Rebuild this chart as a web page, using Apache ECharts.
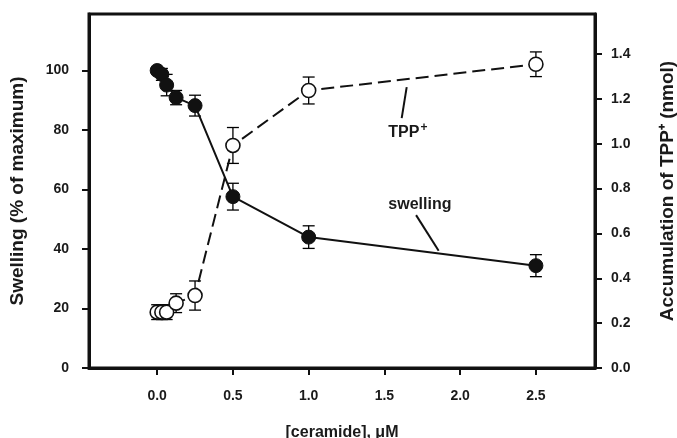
<!DOCTYPE html>
<html>
<head>
<meta charset="utf-8">
<script src="https://cdn.jsdelivr.net/npm/echarts@6/dist/echarts.min.js"></script>
<style>html,body{margin:0;padding:0;background:#fff}#c{width:677px;height:438px}</style>
</head>
<body>
<div id="c"></div>
<script>
// ---- data ----
var ceramide   = [0, 0.031, 0.0625, 0.125, 0.25, 0.5, 1.0, 2.5];
var swelling   = [100, 98.7, 95.1, 90.9, 88.2, 57.6, 44.0, 34.4];
var swellErr   = [1.0, 2.0, 3.6, 2.4, 3.5, 4.5, 3.8, 3.7];
var tpp        = [0.249, 0.249, 0.249, 0.289, 0.323, 0.992, 1.237, 1.354];
var tppErr     = [0.033, 0.033, 0.033, 0.042, 0.065, 0.08, 0.06, 0.055];
var xTicks     = [0, 0.5, 1.0, 1.5, 2.0, 2.5];
var yLeftTicks = [0, 20, 40, 60, 80, 100];
var yRightTicks= [0, 0.2, 0.4, 0.6, 0.8, 1.0, 1.2, 1.4];
// annotation anchors (data coordinates, left axis)
var tppLabelPos   = [1.655, 79.2];
var tppLeader     = [[1.647, 94.4], [1.614, 84.0]];
var swellLabelPos = [1.734, 54.8];
var swellLeader   = [[1.709, 51.4], [1.858, 39.4]];

var FONT = '"Liberation Sans", Arial, Helvetica, sans-serif';
function zip(a, b, c) { return a.map(function (v, i) { return c ? [v, b[i], c[i]] : [v, b[i]]; }); }

function errRender(params, api) {
  var x = api.value(0), y = api.value(1), e = api.value(2);
  var top = api.coord([x, y + e]);
  var bot = api.coord([x, y - e]);
  var w = 6;
  var st = { stroke: '#000', lineWidth: 1.3, fill: null };
  return {
    type: 'group',
    children: [
      { type: 'line', shape: { x1: top[0], y1: top[1], x2: bot[0], y2: bot[1] }, style: st },
      { type: 'line', shape: { x1: top[0] - w, y1: top[1], x2: top[0] + w, y2: top[1] }, style: st },
      { type: 'line', shape: { x1: bot[0] - w, y1: bot[1], x2: bot[0] + w, y2: bot[1] }, style: st }
    ]
  };
}

var chart = echarts.init(document.getElementById('c'), null, { renderer: 'canvas' });
var axisText = { color: '#1a1a1a', fontFamily: FONT, fontWeight: 'bold', fontSize: 14 };
var titleText = { color: '#1a1a1a', fontFamily: FONT, fontWeight: 'bold', fontSize: 19 };
chart.setOption({
  animation: false,
  backgroundColor: '#fff',
  grid: { left: 89, right: 82, top: 14, bottom: 70, outerBoundsMode: 'none', containLabel: false,
          show: true, borderColor: '#111', borderWidth: 3, backgroundColor: 'transparent' },
  xAxis: {
    type: 'value', min: -0.45, max: 2.89,
    name: '[ceramide], \u03bcM', nameLocation: 'middle', nameGap: 57,
    nameTextStyle: { color: '#1a1a1a', fontFamily: FONT, fontWeight: 'bold', fontSize: 16 },
    axisLine: { show: true, onZero: false, lineStyle: { color: '#111', width: 3 } },
    axisTick: { show: true, inside: false, length: 7, lineStyle: { color: '#111', width: 2 }, customValues: xTicks },
    axisLabel: Object.assign({ margin: 21, customValues: xTicks, formatter: function (v) { return v.toFixed(1); } }, axisText),
    splitLine: { show: false }
  },
  yAxis: [{
    type: 'value', min: 0, max: 119, position: 'left',
    name: 'Swelling (% of maximum)', nameLocation: 'middle', nameGap: 62, nameRotate: 90,
    nameTextStyle: titleText,
    axisLine: { show: true, onZero: false, lineStyle: { color: '#111', width: 3 } },
    axisTick: { show: true, inside: false, length: 7, lineStyle: { color: '#111', width: 2 }, customValues: yLeftTicks },
    axisLabel: Object.assign({ margin: 20, customValues: yLeftTicks }, axisText),
    splitLine: { show: false }
  }, {
    type: 'value', min: 0, max: 1.578, position: 'right',
    name: 'Accumulation of TPP\u207a (nmol)', nameLocation: 'middle', nameGap: 63, nameRotate: 90,
    nameTextStyle: titleText,
    axisLine: { show: true, onZero: false, lineStyle: { color: '#111', width: 3 } },
    axisTick: { show: true, inside: false, length: 7, lineStyle: { color: '#111', width: 2 }, customValues: yRightTicks },
    axisLabel: Object.assign({ margin: 16, customValues: yRightTicks, formatter: function (v) { return v.toFixed(1); } }, axisText),
    splitLine: { show: false }
  }],
  series: [
    { type: 'custom', name: 'swellErr', xAxisIndex: 0, yAxisIndex: 0, z: 1, renderItem: errRender, data: zip(ceramide, swelling, swellErr), silent: true },
    { type: 'custom', name: 'tppErr', xAxisIndex: 0, yAxisIndex: 1, z: 1, renderItem: errRender, data: zip(ceramide, tpp, tppErr), silent: true },
    {
      type: 'line', name: 'swelling', yAxisIndex: 0, z: 3, data: zip(ceramide, swelling),
      symbol: 'circle', symbolSize: 14, showSymbol: true,
      lineStyle: { color: '#111', width: 2 },
      itemStyle: { color: '#111', borderColor: '#111', borderWidth: 1 },
      markLine: {
        silent: true, symbol: ['none', 'none'], label: { show: false },
        lineStyle: { color: '#111', width: 2, type: 'solid' },
        data: [
          [{ coord: tppLeader[0] }, { coord: tppLeader[1] }],
          [{ coord: swellLeader[0] }, { coord: swellLeader[1] }]
        ]
      }
    },
    {
      type: 'line', name: 'TPP', yAxisIndex: 1, z: 3, data: zip(ceramide, tpp),
      symbol: 'circle', symbolSize: 14, showSymbol: true,
      lineStyle: { color: '#111', width: 2, type: [13, 6] },
      itemStyle: { color: '#fff', borderColor: '#111', borderWidth: 1.6 }
    },
    {
      type: 'scatter', name: 'annotations', yAxisIndex: 0, z: 5, symbolSize: 0, silent: true,
      itemStyle: { opacity: 1, color: '#1a1a1a' },
      data: [
        { value: tppLabelPos, label: { formatter: '{t|TPP}{s|+}' } },
        { value: swellLabelPos, label: { formatter: '{t|swelling}' } }
      ],
      label: {
        show: true, position: 'inside', textBorderWidth: 0, color: '#1a1a1a', opacity: 1,
        rich: {
          t: { fontFamily: FONT, fontWeight: 'bold', fontSize: 16, color: '#1a1a1a', textBorderWidth: 0 },
          s: { fontFamily: FONT, fontWeight: 'bold', fontSize: 12, color: '#1a1a1a', textBorderWidth: 0, padding: [0, 0, 10, 1] }
        }
      }
    }
  ]
});
</script>
</body>
</html>
